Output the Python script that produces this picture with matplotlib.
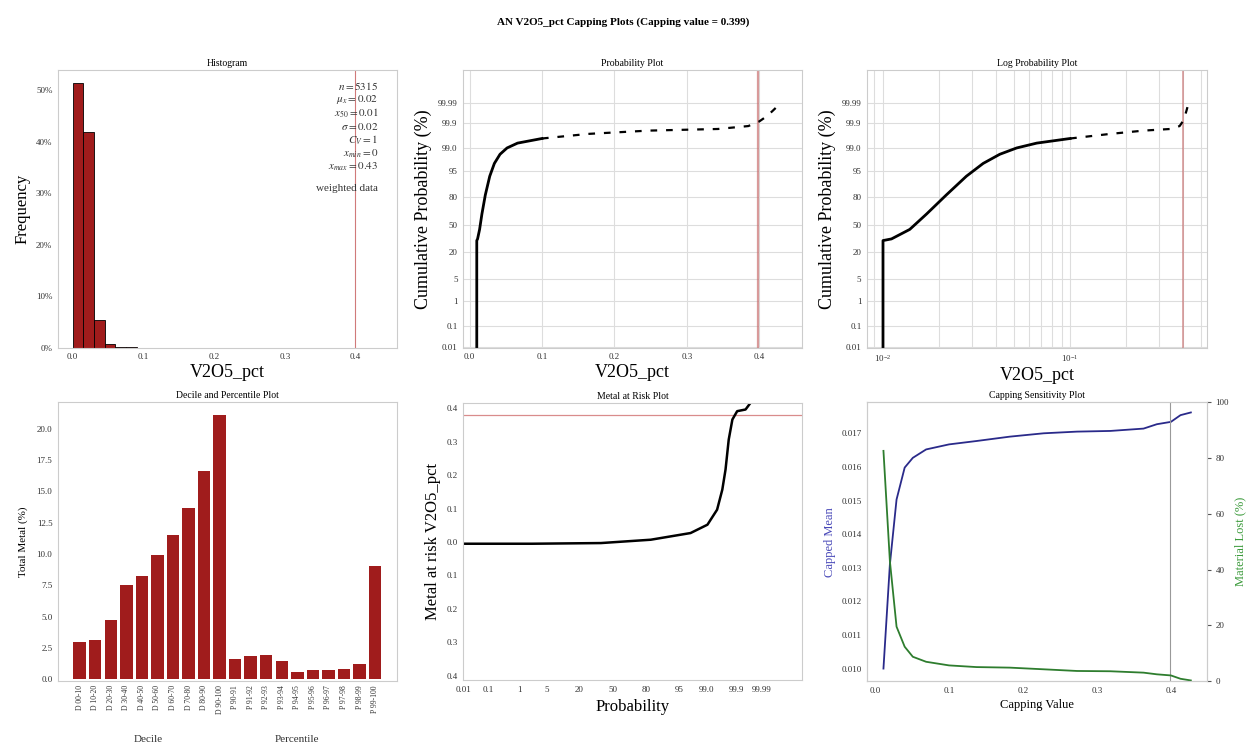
import numpy as np
import matplotlib
matplotlib.use("Agg")
import matplotlib.pyplot as plt
from matplotlib.scale import FuncScale
from matplotlib.ticker import FixedLocator, NullLocator, FuncFormatter, PercentFormatter
from matplotlib.transforms import blended_transform_factory
from statistics import NormalDist

plt.rcParams['font.family'] = ['Liberation Serif', 'DejaVu Serif']
plt.rcParams['mathtext.fontset'] = 'stix'

# Datos del histograma (porcentaje de muestras por clase)
hist_left = [0.001, 0.016, 0.031, 0.046, 0.061, 0.076, 0.091, 0.106, 0.121, 0.406]
hist_freq = [51.3, 41.8, 5.4, 0.8, 0.25, 0.12, 0.08, 0.06, 0.05, 0.05]
hist_width = 0.015
cap_value = 0.399

stats_text = ["$n = 5315$", r"$\mu_x = 0.02$", r"$x_{50} = 0.01$", r"$\sigma = 0.02$",
              "$C_V = 1$", r"$x_{min} = 0$", r"$x_{max} = 0.43$", "", "weighted data"]

# Curva de probabilidad acumulada (valor, probabilidad %)
q_values = [0.01, 0.01, 0.0111, 0.0139, 0.0171, 0.0218, 0.0279, 0.0343, 0.0421, 0.0518,
            0.0663, 0.100, 0.164, 0.247, 0.343, 0.385, 0.400, 0.410, 0.418, 0.428]
q_probs = [0.00996, 31.56, 33.36, 44.43, 62.93, 81.86, 93.06, 96.93, 98.42, 99.04,
           99.36, 99.573, 99.720, 99.795, 99.825, 99.869, 99.918, 99.952, 99.973, 99.988]

prob_ticks = [0.01, 0.1, 1, 5, 20, 50, 80, 95, 99, 99.9, 99.99]
prob_labels = ['0.01', '0.1', '1', '5', '20', '50', '80', '95', '99.0', '99.9', '99.99']

# Deciles y percentiles
dec_labels = ['D 00-10', 'D 10-20', 'D 20-30', 'D 30-40', 'D 40-50', 'D 50-60', 'D 60-70',
              'D 70-80', 'D 80-90', 'D 90-100', 'P 90-91', 'P 91-92', 'P 92-93', 'P 93-94',
              'P 94-95', 'P 95-96', 'P 96-97', 'P 97-98', 'P 98-99', 'P 99-100']
dec_metal = [2.99, 3.15, 4.70, 7.52, 8.27, 9.92, 11.55, 13.68, 16.59, 21.12,
             1.65, 1.89, 1.92, 1.47, 0.61, 0.75, 0.75, 0.80, 1.23, 9.07]

# Metal en riesgo
mar_probs = [0.01166, 2.275, 38.59, 82.89, 97.38, 99.086, 99.534, 99.683, 99.752, 99.807,
             99.856, 99.903, 99.953, 99.970, 99.984]
mar_values = [-0.005, -0.005, -0.003, 0.007, 0.027, 0.052, 0.097, 0.157, 0.217, 0.307,
              0.367, 0.392, 0.397, 0.417, 0.430]
mar_line = 0.38

# Sensibilidad al corte
cap_x = [0.0113, 0.020, 0.029, 0.040, 0.051, 0.069, 0.100, 0.137, 0.182, 0.228, 0.273,
         0.318, 0.363, 0.381, 0.400, 0.413, 0.427]
cap_mean = [0.0100, 0.0131, 0.01503, 0.01598, 0.01627, 0.01652, 0.01667, 0.01677, 0.0169,
            0.0170, 0.01705, 0.01707, 0.01714, 0.01727, 0.01734, 0.01754, 0.01762]
cap_lost = [82.6, 43.0, 19.5, 12.3, 8.7, 6.9, 5.6, 5.0, 4.8, 4.2, 3.6, 3.5, 3.0, 2.4, 2.0,
            0.8, 0.2]

nd = NormalDist()
_ppf = np.vectorize(lambda p: nd.inv_cdf(min(max(p / 100.0, 1e-12), 1 - 1e-12)), otypes=[float])
_cdf = np.vectorize(lambda z: nd.cdf(z) * 100.0, otypes=[float])


def prob_fwd(p):
    return _ppf(np.asarray(p, dtype=float))


def prob_inv(z):
    return _cdf(np.asarray(z, dtype=float))


def style(ax, spine='#cccccc'):
    for s in ax.spines.values():
        s.set_color(spine)
        s.set_linewidth(0.8)
    ax.tick_params(length=0, labelsize=6.5, colors='#333333', pad=4)


def prob_axis(ax, which):
    if which == 'y':
        ax.set_yscale(FuncScale(ax, (prob_fwd, prob_inv)))
        axis = ax.yaxis
    else:
        ax.set_xscale(FuncScale(ax, (prob_fwd, prob_inv)))
        axis = ax.xaxis
    axis.set_major_locator(FixedLocator(prob_ticks))
    axis.set_minor_locator(NullLocator())
    axis.set_major_formatter(FuncFormatter(lambda v, p: prob_labels[prob_ticks.index(round(v, 2))]
                                           if round(v, 2) in prob_ticks else ''))


fig = plt.figure(figsize=(12.46, 7.45), dpi=100)
fig.suptitle('AN V2O5_pct Capping Plots (Capping value = 0.399)', fontsize=8,
             fontweight='bold', y=0.977)

# Histograma
ax1 = fig.add_axes([0.0465, 0.533, 0.272, 0.373])
ax1.bar(hist_left, hist_freq, width=hist_width, align='edge', color='#a01c1c',
        edgecolor='black', linewidth=0.6)
ax1.axvline(cap_value, color='#d07a7a', lw=0.8)
ax1.set_xlim(-0.020, 0.458)
ax1.set_ylim(0, 53.9)
ax1.yaxis.set_major_formatter(PercentFormatter(decimals=0))
ax1.set_xticks([0.0, 0.1, 0.2, 0.3, 0.4])
ax1.set_title('Histogram', fontsize=7, pad=3)
ax1.set_xlabel('V2O5_pct', fontsize=13, labelpad=2)
ax1.set_ylabel('Frequency', fontsize=12, labelpad=4)
ax1.text(0.945, 0.965, '\n'.join(stats_text), transform=ax1.transAxes, ha='right', va='top',
         fontsize=8, color='#333333', linespacing=1.1, multialignment='right')
style(ax1)

# Grafico de probabilidad
ax2 = fig.add_axes([0.3716, 0.533, 0.272, 0.373])
prob_axis(ax2, 'y')
ax2.set_ylim(0.0088, 99.99988)
ax2.set_xlim(-0.009, 0.459)
ax2.set_xticks([0.0, 0.1, 0.2, 0.3, 0.4])
ax2.grid(True, color='#dddddd', lw=0.8)
ax2.axvline(cap_value, color='#c97070', lw=1.6, alpha=0.7)
ax2.plot(q_values[:12], q_probs[:12], color='black', lw=2.0)
ax2.plot(q_values[11:], q_probs[11:], color='black', lw=1.6, dashes=(3, 4))
ax2.set_title('Probability Plot', fontsize=7, pad=3)
ax2.set_xlabel('V2O5_pct', fontsize=13, labelpad=2)
ax2.set_ylabel('Cumulative Probability (%)', fontsize=13, labelpad=4)
style(ax2)

# Grafico log-probabilidad
ax3 = fig.add_axes([0.6958, 0.533, 0.273, 0.373])
ax3.set_xscale('log')
prob_axis(ax3, 'y')
ax3.set_ylim(0.0088, 99.99988)
ax3.set_xlim(0.00821, 0.54)
ax3.grid(True, which='both', color='#dddddd', lw=0.8)
ax3.axvline(cap_value, color='#c97070', lw=1.2, alpha=0.7)
ax3.plot(q_values[:12], q_probs[:12], color='black', lw=2.0)
ax3.plot(q_values[11:], q_probs[11:], color='black', lw=1.6, dashes=(3, 4))
ax3.xaxis.set_minor_formatter(FuncFormatter(lambda v, p: ''))
ax3.set_title('Log Probability Plot', fontsize=7, pad=3)
ax3.set_xlabel('V2O5_pct', fontsize=13, labelpad=2)
ax3.set_ylabel('Cumulative Probability (%)', fontsize=13, labelpad=4)
style(ax3)
ax3.tick_params(which='minor', length=0)

# Deciles y percentiles
ax4 = fig.add_axes([0.0465, 0.0859, 0.272, 0.374])
x4 = np.arange(len(dec_labels))
ax4.bar(x4, dec_metal, width=0.8, color='#a01c1c')
ax4.set_xticks(x4)
ax4.set_xticklabels(dec_labels, rotation=90, fontsize=6)
ax4.set_xlim(-1.4, 20.4)
ax4.set_ylim(-0.13, 22.1)
ax4.set_yticks([0, 2.5, 5, 7.5, 10, 12.5, 15, 17.5, 20])
ax4.yaxis.set_major_formatter(FuncFormatter(lambda v, p: f'{v:.1f}'))
ax4.set_title('Decile and Percentile Plot', fontsize=7, pad=3)
ax4.set_ylabel('Total Metal (%)', fontsize=8, labelpad=6)
tr = blended_transform_factory(ax4.transData, ax4.transAxes)
ax4.text(4.4, -0.21, 'Decile', transform=tr, ha='center', va='center', fontsize=8, color='#333333')
ax4.text(14.0, -0.21, 'Percentile', transform=tr, ha='center', va='center', fontsize=8,
         color='#333333')
style(ax4)
ax4.tick_params(axis='x', labelsize=5.5, pad=3)

# Metal en riesgo
ax5 = fig.add_axes([0.3716, 0.0873, 0.272, 0.372])
prob_axis(ax5, 'x')
ax5.set_xlim(prob_inv(-3.72), prob_inv(4.71))
ax5.set_ylim(-0.413, 0.417)
ax5.set_yticks([-0.4, -0.3, -0.2, -0.1, 0.0, 0.1, 0.2, 0.3, 0.4])
ax5.yaxis.set_major_formatter(FuncFormatter(lambda v, p: f'{abs(v):.1f}'))
ax5.axhline(mar_line, color='#d98c8c', lw=0.9)
ax5.plot(mar_probs, mar_values, color='black', lw=1.8)
ax5.set_title('Metal at Risk Plot', fontsize=7, pad=3)
ax5.set_xlabel('Probability', fontsize=12, labelpad=4)
ax5.set_ylabel('Metal at risk V2O5_pct', fontsize=12, labelpad=4)
style(ax5)

# Sensibilidad al corte
ax6 = fig.add_axes([0.6958, 0.0859, 0.273, 0.374])
ax6.plot(cap_x, cap_mean, color='#2a2a8a', lw=1.3)
ax6.axvline(cap_value, color='#999999', lw=0.8)
ax6.set_xlim(-0.011, 0.449)
ax6.set_ylim(0.00963, 0.01792)
ax6.set_xticks([0.0, 0.1, 0.2, 0.3, 0.4])
ax6.set_yticks([0.010, 0.011, 0.012, 0.013, 0.014, 0.015, 0.016, 0.017])
ax6.yaxis.set_major_formatter(FuncFormatter(lambda v, p: f'{v:.3f}'))
ax6.set_title('Capping Sensitivity Plot', fontsize=7, pad=3)
ax6.set_xlabel('Capping Value', fontsize=9, labelpad=3)
ax6.set_ylabel('Capped Mean', fontsize=9, color='#4848b8', labelpad=4)
style(ax6)
ax7 = ax6.twinx()
ax7.plot(cap_x, cap_lost, color='#2e7d2e', lw=1.3)
ax7.set_ylim(0, 100)
ax7.set_yticks([0, 20, 40, 60, 80, 100])
ax7.set_ylabel('Material Lost (%)', fontsize=9, color='#3a9a3a', labelpad=4)
style(ax7)
ax7.tick_params(axis='y', length=3, color='#555555', pad=3)

fig.savefig('out.png', dpi=100)
